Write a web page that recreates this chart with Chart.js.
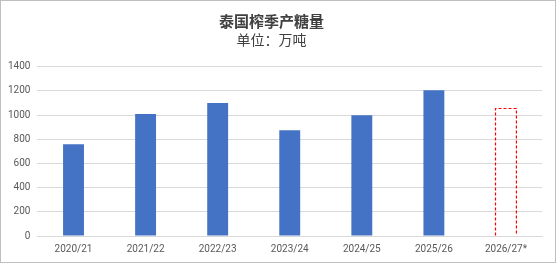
<!DOCTYPE html>
<html>
<head>
<meta charset="utf-8">
<script src="https://cdn.jsdelivr.net/npm/chart.js@4"></script>
<style>
  html, body { margin: 0; padding: 0; background: #fff; }
  #wrap { width: 556px; height: 263px; box-sizing: border-box; border: 1px solid #bfbfbf; position: relative; }
</style>
</head>
<body>
<div id="wrap"><canvas id="sugarBar"></canvas></div>
<script>
const seasons = ['2020/21', '2021/22', '2022/23', '2023/24', '2024/25', '2025/26', '2026/27*']
const output = [760, 1010, 1100, 875, 1000, 1205, 1055]
const forecastIndex = 6
const yTicks = [0, 200, 400, 600, 800, 1000, 1200, 1400]

const titleFont = "'Noto Sans CJK SC', 'Noto Sans', sans-serif"
const tickFont = "Roboto, 'Liberation Sans', sans-serif"

// dashed outline for the forecast bar (Chart.js bars have no borderDash)
const dashedBar = {
    id: 'dashedBar',
    afterDatasetsDraw(chart) {
        const bar = chart.getDatasetMeta(0).data[forecastIndex]
        const { x, y, base, width } = bar.getProps(['x', 'y', 'base', 'width'], true)
        const c = chart.ctx
        c.save()
        c.strokeStyle = '#ff0000'
        c.lineWidth = 1.2
        c.setLineDash([3, 2])
        c.beginPath()
        c.moveTo(x - width / 2, base)
        c.lineTo(x - width / 2, y)
        c.lineTo(x + width / 2, y)
        c.lineTo(x + width / 2, base)
        c.stroke()
        c.restore()
    }
}

const ctx = document.getElementById('sugarBar').getContext('2d')
const sugarChart = new Chart(ctx, {
    type: 'bar',
    data: {
        labels: seasons,
        datasets: [{
            data: output,
            backgroundColor: seasons.map((s, i) => i === forecastIndex ? 'rgba(0,0,0,0)' : '#4472c4'),
            borderWidth: 0,
            barPercentage: 0.29,
            categoryPercentage: 1
        }]
    },
    options: {
        responsive: true,
        maintainAspectRatio: false,
        animation: false,
        layout: { padding: { left: 0, right: 13, top: 4, bottom: 0 } },
        plugins: {
            legend: { display: false },
            tooltip: { enabled: false },
            title: {
                display: true,
                text: '泰国榨季产糖量',
                color: '#404040',
                font: { family: titleFont, size: 15, weight: 'bold' },
                padding: { top: 7, bottom: 0 }
            },
            subtitle: {
                display: true,
                text: '单位：万吨',
                color: '#404040',
                font: { family: titleFont, size: 14 },
                padding: { top: 1, bottom: 19 }
            }
        },
        scales: {
            x: {
                grid: { display: false, drawTicks: false },
                border: { color: '#d9d9d9' },
                ticks: { color: '#595959', font: { family: tickFont, size: 10 }, padding: 7 }
            },
            y: {
                min: 0,
                max: 1400,
                afterBuildTicks: axis => { axis.ticks = yTicks.map(v => ({ value: v })) },
                grid: { color: '#d9d9d9', drawTicks: false },
                border: { display: false },
                ticks: { color: '#595959', font: { family: tickFont, size: 10 }, padding: 7, callback: v => String(v) }
            }
        }
    },
    plugins: [dashedBar]
})
</script>
</body>
</html>
